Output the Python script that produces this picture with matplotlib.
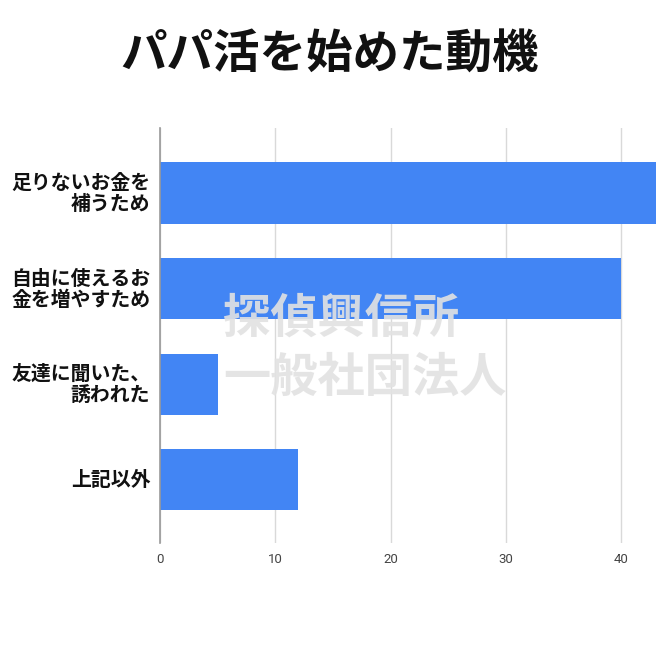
import matplotlib
matplotlib.use("Agg")
import matplotlib.pyplot as plt

plt.rcParams['font.family'] = ['Noto Sans CJK JP', 'DejaVu Sans']

title = "パパ活を始めた動機"
categories = ["足りないお金を\n補うため", "自由に使えるお\n金を増やすため", "友達に聞いた、\n誘われた", "上記以外"]
values = [43, 40, 5, 12]
xticks = [0, 10, 20, 30, 40]
watermark = "探偵興信所\n一般社団法人"

fig = plt.figure(figsize=(6.6, 6.6), dpi=100)
ax = fig.add_axes([160/660, 1-543/660, (656-160)/660, (543-128)/660])

y = list(range(len(categories)))
ax.barh(y, values, height=0.64, color='#4285f4', zorder=2)
ax.set_xlim(0, 43)
ax.set_ylim(3.66, -0.68)

ax.set_xticks(xticks)
ax.set_xticklabels([str(t) for t in xticks], fontsize=9.5, color='#444444', family='Roboto')
ax.tick_params(axis='x', length=0, pad=7)
ax.grid(axis='x', color='#d9d9d9', linewidth=1, zorder=0)
ax.set_yticks([])
for s in ['top', 'right', 'bottom']:
    ax.spines[s].set_visible(False)
ax.spines['left'].set_color('#999999')
ax.spines['left'].set_linewidth(1.2)
ax.spines['left'].set_zorder(3)

for yi, lab in zip(y, categories):
    ax.annotate(lab, xy=(0, yi), xycoords=('axes fraction', 'data'),
                xytext=(-7, 0), textcoords='offset points',
                ha='right', va='center', multialignment='right',
                fontsize=14.3, fontweight='bold', color='#111111', linespacing=1.0)

fig.text(0.5, 1-55/660, title, ha='center', va='center', fontsize=33.5,
         fontweight='bold', color='#111111')

fig.text(223/660, 1-348/660, watermark, ha='left', va='center', fontsize=34,
         fontweight='bold', color='#e2e2e2', alpha=0.9, linespacing=1.3, zorder=5)

fig.savefig('out.png', dpi=100, facecolor='white')
